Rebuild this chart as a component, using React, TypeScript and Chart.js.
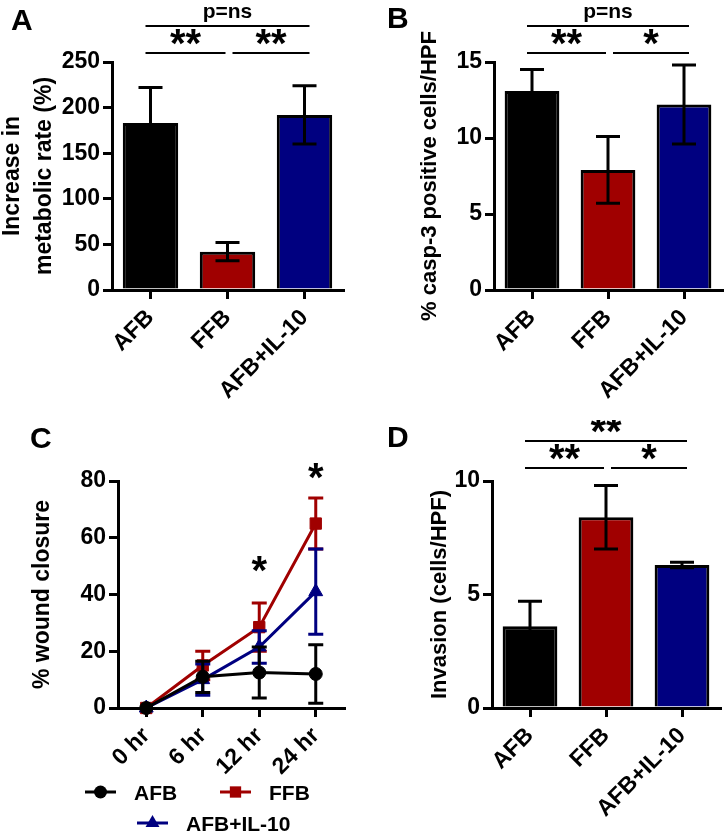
import React, { useEffect, useRef } from "react";
import { Chart, registerables } from "chart.js";

Chart.register(...registerables);

// ---------- data ----------
const groups = ["AFB", "FFB", "AFB+IL-10"];
const groupColors = ["#000000", "#a00000", "#000080"];

const metabolicMean = [183, 42, 192];
const metabolicErr = [39, 10, 32];

const caspMean = [13.1, 7.9, 12.2];
const caspErr = [1.4, 2.2, 2.6];

const invasionMean = [3.6, 8.4, 6.3];
const invasionErr = [1.1, 1.4, 0.12];

const timepoints = ["0 hr", "6 hr", "12 hr", "24 hr"];
const woundAFB = [0, 11, 12.5, 12];
const woundAFBErr = [0, 5.5, 9, 10.3];
const woundFFB = [0, 15, 28.5, 65];
const woundFFBErr = [0, 5, 8.5, 9];
const woundIL10 = [0, 10, 21.5, 41];
const woundIL10Err = [0, 5.5, 5.7, 15];

const sigMetabolic = [
  { from: 0, to: 2, level: 1, text: "p=ns" },
  { from: 0, to: 1, level: 0, text: "**" },
  { from: 1, to: 2, level: 0, text: "**" },
];
const sigCasp = [
  { from: 0, to: 2, level: 1, text: "p=ns" },
  { from: 0, to: 1, level: 0, text: "**" },
  { from: 1, to: 2, level: 0, text: "*" },
];
const sigInvasion = [
  { from: 0, to: 2, level: 1, text: "**" },
  { from: 0, to: 1, level: 0, text: "**" },
  { from: 1, to: 2, level: 0, text: "*" },
];
const woundStars = [
  { at: 2, value: 51, text: "*" },
  { at: 3, value: 84, text: "*" },
];

// ---------- styling helpers ----------
const FONT = "'Liberation Sans', Arial, Helvetica, sans-serif";
const TICK_SIZE = 23;
Chart.defaults.font.family = FONT;
Chart.defaults.color = "#000";

const errorBarPlugin = {
  id: "errorBars",
  afterDatasetDraw(chart: any, args: any, opts: any) {
    const ds = chart.data.datasets[args.index];
    const errs = ds.errors;
    if (!errs) return;
    const y = chart.scales.y;
    const ctx = chart.ctx;
    const cap = opts.cap ?? 12;
    ctx.save();
    ctx.strokeStyle = ds.errorColor || "#000";
    ctx.lineWidth = opts.lineWidth ?? 3;
    ctx.lineCap = "butt";
    args.meta.data.forEach((el: any, i: number) => {
      const e = errs[i];
      if (!e) return;
      const v = ds.data[i];
      const x = el.x;
      const yt = y.getPixelForValue(v + e);
      const yb = y.getPixelForValue(v - e);
      ctx.beginPath();
      ctx.moveTo(x, yt);
      ctx.lineTo(x, yb);
      ctx.moveTo(x - cap, yt);
      ctx.lineTo(x + cap, yt);
      ctx.moveTo(x - cap, yb);
      ctx.lineTo(x + cap, yb);
      ctx.stroke();
    });
    ctx.restore();
  },
};

const sigPlugin = {
  id: "sig",
  afterDraw(chart: any, _args: any, opts: any) {
    const ctx = chart.ctx;
    const xs = chart.scales.x;
    const ys = chart.scales.y;
    const top = chart.chartArea.top;
    const last = chart.data.labels.length - 1;
    ctx.save();
    ctx.fillStyle = "#000";
    ctx.strokeStyle = "#000";
    ctx.lineWidth = 2;
    ctx.textAlign = "center";
    ctx.textBaseline = "alphabetic";
    (opts.items || []).forEach((it: any) => {
      const ly = top - opts.levels[it.level];
      const x1 = xs.getPixelForValue(it.from) + (it.from === 0 ? -5 : 5);
      const x2 = xs.getPixelForValue(it.to) + (it.to === last ? 5 : -2);
      ctx.beginPath();
      ctx.moveTo(x1, ly);
      ctx.lineTo(x2, ly);
      ctx.stroke();
      const star = /^\*+$/.test(it.text);
      ctx.font = star ? `bold 40px ${FONT}` : `bold 21px ${FONT}`;
      ctx.fillText(it.text, (x1 + x2) / 2, star ? ly + 4 : ly - 8);
    });
    (opts.stars || []).forEach((it: any) => {
      ctx.font = `bold 40px ${FONT}`;
      ctx.fillText(it.text, xs.getPixelForValue(it.at), ys.getPixelForValue(it.value) + 21);
    });
    ctx.restore();
  },
};

const panelLabelPlugin = {
  id: "panelLabel",
  afterDraw(chart: any, _args: any, opts: any) {
    if (!opts.text) return;
    const ctx = chart.ctx;
    ctx.save();
    ctx.fillStyle = "#000";
    ctx.font = `bold 30px ${FONT}`;
    ctx.textAlign = "left";
    ctx.textBaseline = "alphabetic";
    ctx.fillText(opts.text, opts.x, opts.y);
    ctx.restore();
  },
};

function drawMarker(ctx: any, style: string, x: number, y: number, r: number) {
  ctx.beginPath();
  if (style === "rect") {
    const s = r * Math.SQRT1_2;
    ctx.rect(x - s, y - s, 2 * s, 2 * s);
  } else if (style === "triangle") {
    ctx.moveTo(x, y - r);
    ctx.lineTo(x + r * 0.866, y + r * 0.5);
    ctx.lineTo(x - r * 0.866, y + r * 0.5);
    ctx.closePath();
  } else {
    ctx.arc(x, y, r, 0, Math.PI * 2);
  }
  ctx.fill();
}

const lineLegendPlugin = {
  id: "lineLegend",
  afterDraw(chart: any, _args: any, opts: any) {
    const ctx = chart.ctx;
    ctx.save();
    (opts.items || []).forEach((it: any) => {
      const ds = chart.data.datasets[it.index];
      ctx.strokeStyle = ds.borderColor;
      ctx.fillStyle = ds.borderColor;
      ctx.lineWidth = 3;
      ctx.beginPath();
      ctx.moveTo(it.x, it.y);
      ctx.lineTo(it.x + 31, it.y);
      ctx.stroke();
      drawMarker(ctx, ds.pointStyle, it.x + 15.5, it.y, ds.pointRadius);
      ctx.fillStyle = "#000";
      ctx.font = `bold 21px ${FONT}`;
      ctx.textAlign = "left";
      ctx.textBaseline = "alphabetic";
      ctx.fillText(ds.label, it.x + 49, it.y + 7.5);
    });
    ctx.restore();
  },
};

function yScale(max: number, step: number, title: any, titleSize: number, titlePad: number, lineHeight: number, width: number) {
  return {
    min: 0,
    max,
    ticks: { stepSize: step, padding: 3, color: "#000", font: { size: TICK_SIZE, weight: "bold" } },
    grid: { drawOnChartArea: false, drawTicks: true, tickLength: 9, lineWidth: 3, color: "#000" },
    border: { display: true, width: 3, color: "#000" },
    title: {
      display: true,
      text: title,
      color: "#000",
      font: { size: titleSize, weight: "bold", lineHeight },
      padding: { top: titlePad, bottom: 0 },
    },
    afterFit: (s: any) => {
      s.width = width;
    },
  };
}

function xScale(height: number) {
  return {
    offset: true,
    ticks: {
      autoSkip: false,
      maxRotation: 45,
      minRotation: 45,
      padding: 2,
      color: "#000",
      font: { size: TICK_SIZE, weight: "bold", lineHeight: 1.6 },
    },
    grid: { offset: false, drawOnChartArea: false, drawTicks: true, tickLength: 9, lineWidth: 3, color: "#000" },
    border: { display: true, width: 3, color: "#000" },
    afterFit: (s: any) => {
      s.height = height;
    },
  };
}

function barConfig(p: any) {
  return {
    type: "bar",
    data: {
      labels: groups,
      datasets: [
        {
          data: p.mean,
          errors: p.err,
          errorColor: "#000",
          backgroundColor: groupColors,
          borderColor: "#000",
          borderWidth: 3,
          borderSkipped: "start",
          barPercentage: 0.72,
          categoryPercentage: 1,
        },
      ],
    },
    options: {
      animation: false,
      responsive: false,
      devicePixelRatio: 1,
      layout: { padding: { left: 0, top: p.top, right: p.right, bottom: 0 } },
      scales: {
        x: xScale(p.xHeight),
        y: yScale(p.max, p.step, p.title, p.titleSize, p.titlePad, p.lineHeight, p.yWidth),
      },
      plugins: {
        legend: { display: false },
        tooltip: { enabled: false },
        errorBars: { cap: 12, lineWidth: 3 },
        sig: { items: p.sig, levels: p.levels },
        panelLabel: p.label,
      },
    },
    plugins: [errorBarPlugin, sigPlugin, panelLabelPlugin],
  };
}

function lineConfig() {
  const common = { borderWidth: 3, pointBorderWidth: 1, tension: 0, clip: false };
  return {
    type: "line",
    data: {
      labels: timepoints,
      datasets: [
        {
          ...common,
          label: "AFB",
          data: woundAFB,
          errors: woundAFBErr,
          errorColor: "#000000",
          borderColor: "#000000",
          backgroundColor: "#000000",
          pointBackgroundColor: "#000000",
          pointBorderColor: "#000000",
          pointStyle: "circle",
          pointRadius: 6.5,
          order: 0,
        },
        {
          ...common,
          label: "FFB",
          data: woundFFB,
          errors: woundFFBErr,
          errorColor: "#a00000",
          borderColor: "#a00000",
          backgroundColor: "#a00000",
          pointBackgroundColor: "#a00000",
          pointBorderColor: "#a00000",
          pointStyle: "rect",
          pointRadius: 8,
          order: 2,
        },
        {
          ...common,
          label: "AFB+IL-10",
          data: woundIL10,
          errors: woundIL10Err,
          errorColor: "#000080",
          borderColor: "#000080",
          backgroundColor: "#000080",
          pointBackgroundColor: "#000080",
          pointBorderColor: "#000080",
          pointStyle: "triangle",
          pointRadius: 8,
          order: 1,
        },
      ],
    },
    options: {
      animation: false,
      responsive: false,
      devicePixelRatio: 1,
      layout: { padding: { left: 0, top: 61, right: 18, bottom: 0 } },
      scales: {
        x: xScale(126),
        y: yScale(80, 20, "% wound closure", 23, 29, 1.2, 118),
      },
      plugins: {
        legend: { display: false },
        tooltip: { enabled: false },
        errorBars: { cap: 7.5, lineWidth: 3 },
        sig: { items: [], levels: [0, 0], stars: woundStars },
        panelLabel: { text: "C", x: 30, y: 28 },
        lineLegend: {
          items: [
            { index: 0, x: 85, y: 372 },
            { index: 1, x: 220, y: 372 },
            { index: 2, x: 137, y: 403 },
          ],
        },
      },
    },
    plugins: [errorBarPlugin, sigPlugin, panelLabelPlugin, lineLegendPlugin],
  };
}

function Panel({ left, top, width, height, config }: any) {
  const ref = useRef<HTMLCanvasElement>(null);
  useEffect(() => {
    if (!ref.current) return;
    const chart = new Chart(ref.current, config());
    return () => chart.destroy();
  }, []);
  return (
    <div style={{ position: "absolute", left, top, width, height }}>
      <canvas ref={ref} width={width} height={height} style={{ display: "block" }} />
    </div>
  );
}

export default function App() {
  return (
    <div style={{ position: "fixed", left: 0, top: 0, width: 725, height: 834, background: "#fff", overflow: "hidden" }}>
      <Panel
        left={0}
        top={0}
        width={362}
        height={420}
        config={() =>
          barConfig({
            mean: metabolicMean,
            err: metabolicErr,
            max: 250,
            step: 50,
            title: ["Increase in", "metabolic rate (%)"],
            titleSize: 23,
            titlePad: -3,
            lineHeight: 1.37,
            yWidth: 112,
            top: 62,
            right: 19,
            xHeight: 130,
            sig: sigMetabolic,
            levels: [9, 36],
            label: { text: "A", x: 11, y: 30 },
          })
        }
      />
      <Panel
        left={362}
        top={0}
        width={363}
        height={420}
        config={() =>
          barConfig({
            mean: caspMean,
            err: caspErr,
            max: 15,
            step: 5,
            title: "% casp-3 positive cells/HPF",
            titleSize: 22,
            titlePad: 55,
            lineHeight: 1.2,
            yWidth: 132,
            top: 62,
            right: 3,
            xHeight: 130,
            sig: sigCasp,
            levels: [9, 36],
            label: { text: "B", x: 25, y: 28 },
          })
        }
      />
      <Panel left={0} top={420} width={362} height={414} config={lineConfig} />
      <Panel
        left={362}
        top={420}
        width={363}
        height={414}
        config={() =>
          barConfig({
            mean: invasionMean,
            err: invasionErr,
            max: 10,
            step: 5,
            title: "Invasion (cells/HPF)",
            titleSize: 22,
            titlePad: 65,
            lineHeight: 1.2,
            yWidth: 130,
            top: 61,
            right: 5,
            xHeight: 126,
            sig: sigInvasion,
            levels: [13, 40],
            label: { text: "D", x: 25, y: 27 },
          })
        }
      />
    </div>
  );
}
